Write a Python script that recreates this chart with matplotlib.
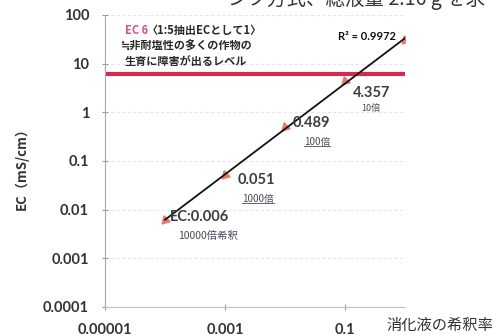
import matplotlib
matplotlib.use("Agg")
import matplotlib.pyplot as plt
from matplotlib.lines import Line2D
import numpy as np

# dilution rate of the digestate and measured EC (mS/cm)
dilution = [0.0001, 0.001, 0.01, 0.1, 1.0]
ec_values = [0.006, 0.051, 0.489, 4.357, 30.0]
value_labels = ["EC:0.006", "0.051", "0.489", "4.357"]
dilution_labels = ["10000倍希釈", "1000倍", "100倍", "10倍"]
damage_level = 6
r_squared = 0.9972

x_ticks = [1e-5, 1e-3, 1e-1]
x_tick_labels = ["0.00001", "0.001", "0.1"]
y_ticks = [1e-4, 1e-3, 1e-2, 1e-1, 1, 10, 100]
y_tick_labels = ["0.0001", "0.001", "0.01", "0.1", "1", "10", "100"]

W, H = 498, 336
JP = ["Noto Sans CJK JP", "DejaVu Sans"]
NUM = ["Lato", "Noto Sans CJK JP", "DejaVu Sans"]

fig = plt.figure(figsize=(W / 100, H / 100), dpi=100)
fig.patch.set_facecolor("white")
ax = fig.add_axes([105 / W, 1 - 307 / H, 300 / W, 292 / H])
ax.set_xscale("log")
ax.set_yscale("log")
ax.set_xlim(1e-5, 1)
ax.set_ylim(1e-4, 100)

# faint horizontal grid
for yv in y_ticks:
    ax.axhline(yv, color="#e6e6e6", lw=0.8, ls=(0, (3, 2)), zorder=0)

# salt-damage threshold
ax.axhline(damage_level, color="#d42a50", lw=3, zorder=2)

# power-law trend fitted on the log values
lx, ly = np.log10(dilution), np.log10(ec_values)
slope, icpt = np.polyfit(lx, ly, 1)
xs = np.logspace(lx.min(), lx.max(), 50)
ax.plot(dilution, ec_values, ls="none", marker=(3, 0, 135), ms=7,
        color="#e47d6e", zorder=3)
ax.plot(xs, 10 ** (icpt + slope * np.log10(xs)), color="#111111", lw=1.3, zorder=4)

ax.set_xticks(x_ticks)
ax.set_xticklabels(x_tick_labels)
ax.set_yticks(y_ticks)
ax.set_yticklabels(y_tick_labels)
ax.minorticks_off()
ax.tick_params(axis="both", direction="inout", length=5, width=0.8, color="#999999",
               labelcolor="#333333")
ax.tick_params(axis="y", pad=9)
ax.tick_params(axis="x", pad=9)
for lab in ax.get_xticklabels() + ax.get_yticklabels():
    lab.set_fontfamily(NUM)
    lab.set_fontweight("bold")
    lab.set_fontsize(10.5)

for s in ["top", "right"]:
    ax.spines[s].set_visible(False)
ax.spines["left"].set_color("#a8a8a8")
ax.spines["bottom"].set_color("#c0c0c0")
ax.spines["left"].set_linewidth(0.8)
ax.spines["bottom"].set_linewidth(0.8)


def px(x, y):
    return x / W, 1 - y / H


fig.text(*px(22, 165), "EC（mS/cm）", rotation=90, ha="center", va="center",
         fontsize=9.5, fontweight="bold", family=JP, color="#333333")
fig.text(*px(440, 325), "消化液の希釈率", ha="center", va="center",
         fontsize=11, family=JP, color="#333333")

# slide heading running off the top edge
fig.text(*px(228, 10), "ンク方式、総液量 2.16 g を求", ha="left", va="bottom",
         fontsize=14, family=JP, color="#333333")

# threshold note
fig.text(*px(125, 30), "EC 6", ha="left", va="center", fontsize=8,
         fontweight="bold", family=JP, color="#d4508a")
fig.text(*px(147, 30), "〈1:5抽出ECとして1〉", ha="left", va="center", fontsize=8,
         fontweight="bold", family=JP, color="#2a2a2a")
fig.text(*px(121, 46), "≒非耐塩性の多くの作物の", ha="left", va="center", fontsize=8,
         fontweight="bold", family=JP, color="#2a2a2a")
fig.text(*px(125, 61), "生育に障害が出るレベル", ha="left", va="center", fontsize=8,
         fontweight="bold", family=JP, color="#2a2a2a")

fig.text(*px(367, 36), f"R² = {r_squared}", ha="center", va="center", fontsize=8,
         fontweight="bold", family=NUM, color="#111111")

# value callouts next to each measured point
val_pos = [(170, 217), (238, 180), (293, 123), (353, 93)]
sub_pos = [(208, 236), (258, 199), (317, 142), (371, 108)]
sub_size = [7.5, 7, 7, 6.5]
underline = [False, True, True, False]
subs = []
for lab, (vx, vy) in zip(value_labels, val_pos):
    fig.text(*px(vx, vy), lab, ha="left", va="center", fontsize=10.5,
             fontweight="bold", family=NUM, color="#3c3c3c")
for lab, (sx, sy), fs, ul in zip(dilution_labels, sub_pos, sub_size, underline):
    t = fig.text(*px(sx, sy), lab, ha="center", va="center", fontsize=fs,
                 family=JP, color="#4a4a5a")
    subs.append((t, ul))

fig.canvas.draw()
renderer = fig.canvas.get_renderer()
for t, ul in subs:
    if ul:
        bb = t.get_window_extent(renderer)
        yline = (bb.y0 + 1.5) / H
        fig.add_artist(Line2D([bb.x0 / W, bb.x1 / W], [yline, yline],
                              color="#4a4a5a", lw=0.6))

fig.savefig("out.png", dpi=100, facecolor="white")
